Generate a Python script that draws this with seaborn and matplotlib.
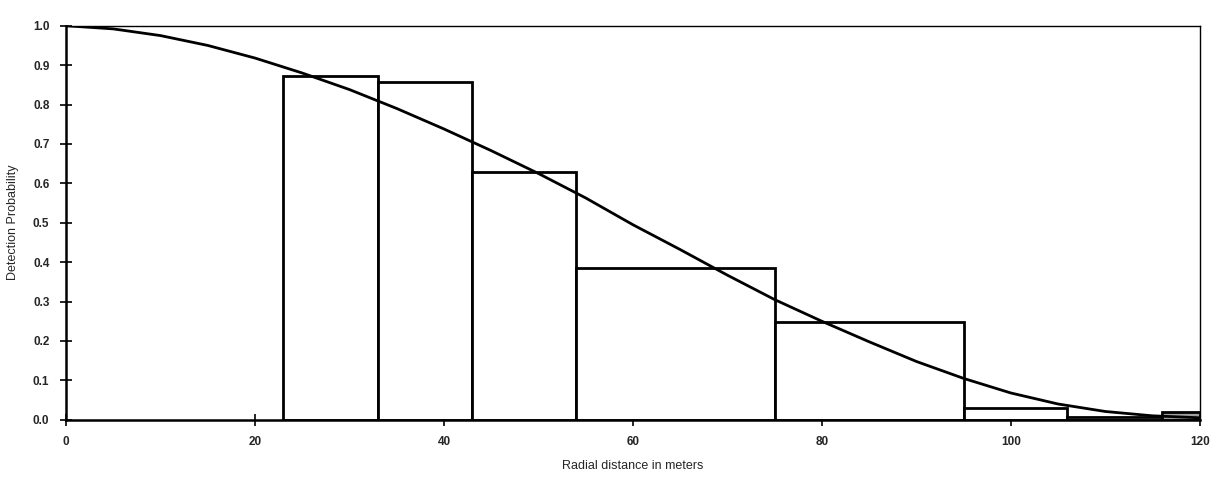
import matplotlib
matplotlib.use("Agg")
import matplotlib.pyplot as plt
import seaborn as sns
import numpy as np
import pandas as pd

# Histogram bins (radial distance, m) and bar heights
bin_edges = [23, 33, 43, 54, 75, 95, 106, 116, 120]
bar_heights = [0.872, 0.858, 0.63, 0.386, 0.247, 0.03, 0.008, 0.02]

# Fitted detection curve
curve_x = [0, 5, 10, 15, 20, 25, 30, 35, 40, 45, 50, 55, 60, 65, 70,
           75, 80, 85, 90, 95, 100, 105, 110, 115, 120]
curve_y = [1.0, 0.992, 0.975, 0.95, 0.918, 0.88, 0.838, 0.79, 0.738, 0.683,
           0.625, 0.563, 0.495, 0.432, 0.367, 0.305, 0.25, 0.198, 0.148,
           0.105, 0.068, 0.04, 0.021, 0.01, 0.005]

x_ticks = [0, 20, 40, 60, 80, 100, 120]
y_ticks = [0.0, 0.1, 0.2, 0.3, 0.4, 0.5, 0.6, 0.7, 0.8, 0.9, 1.0]

sns.set_theme(style="white")
plt.rcParams['font.family'] = ['Liberation Sans', 'DejaVu Sans']

fig = plt.figure(figsize=(12.23, 4.95), dpi=100)
ax = fig.add_axes([0.054, 0.152, 0.927, 0.796])

centers = [(a + b) / 2 for a, b in zip(bin_edges[:-1], bin_edges[1:])]
hist_df = pd.DataFrame({"r": centers, "w": bar_heights})
sns.histplot(data=hist_df, x="r", weights="w", bins=bin_edges, stat="count",
             element="bars", fill=True, color="white", edgecolor="black",
             linewidth=2.0, alpha=1.0, ax=ax, zorder=2)
# last small bar appears grey-filled in the reference
if ax.patches:
    ax.patches[-1].set_facecolor("#a0a0a0")

curve_df = pd.DataFrame({"x": curve_x, "y": curve_y})
sns.lineplot(data=curve_df, x="x", y="y", color="black", linewidth=2.0,
             ax=ax, zorder=3)

ax.set_xlim(0, 120)
ax.set_ylim(0, 1.0)
ax.set_xticks(x_ticks)
ax.set_xticklabels([str(t) for t in x_ticks], fontsize=8.5, fontweight="bold")
ax.set_yticks(y_ticks)
ax.set_yticklabels([f"{t:.1f}" for t in y_ticks], fontsize=8.5, fontweight="bold")
ax.tick_params(axis="both", direction="inout", length=8, width=1.2,
               color="black", pad=8, bottom=True, left=True)

ax.set_xlabel("Radial distance in meters", fontsize=9, labelpad=8)
ax.set_ylabel("Detection Probability", fontsize=9, labelpad=10)

for side in ["left", "bottom"]:
    ax.spines[side].set_linewidth(1.8)
    ax.spines[side].set_color("black")
for side in ["top", "right"]:
    ax.spines[side].set_linewidth(1.0)
    ax.spines[side].set_color("black")
ax.grid(False)

fig.savefig("out.png", dpi=100)
